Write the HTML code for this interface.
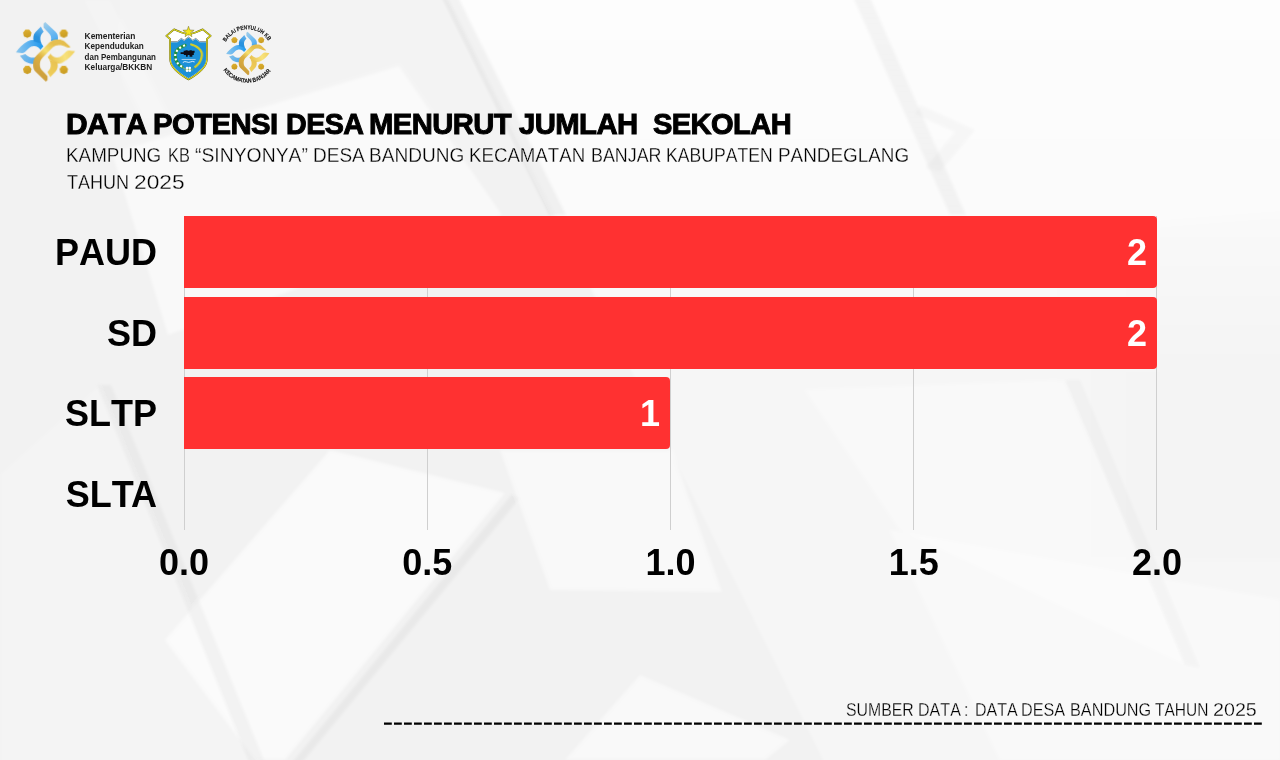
<!DOCTYPE html>
<html lang="id">
<head>
<meta charset="utf-8">
<title>Data Potensi Desa Menurut Jumlah Sekolah</title>
<style>
  html, body { margin: 0; padding: 0; }
  body {
    width: 1280px; height: 760px; overflow: hidden; position: relative;
    background: #f3f3f3;
    font-family: "Liberation Sans", sans-serif;
    color: #000;
  }
  #bg { position: absolute; left: 0; top: 0; width: 1280px; height: 760px; }
  .abs { position: absolute; white-space: nowrap; }

  /* heading */
  #title { left: 0; top: 104px; width: 1280px; height: 40px; }
  #title span {
    position: absolute; top: 0; height: 40px; line-height: 40px;
    font-size: 30px; font-weight: bold; font-kerning: none; letter-spacing: -0.6px;
    transform-origin: 0 50%;
    -webkit-text-stroke: 1.0px #000;
  }
  .line { left: 0; width: 1280px; }
  .line span { position: absolute; top: 0; transform-origin: 0 50%; font-kerning: none; }
  #sub1, #sub2 { height: 26px; }
  #sub1 span, #sub2 span { height: 26px; line-height: 26px; font-size: 19.8px; -webkit-text-stroke: 0.28px #f9f9f9; }
  #sub1 { top: 142px; }
  #sub2 { top: 169px; }

  /* chart */
  .grid { position: absolute; top: 216px; width: 1px; height: 314px; background: #cfcfcf; }
  .bar {
    position: absolute; left: 184px; height: 72.3px; background: #ff3131;
    border-radius: 0 4px 4px 0;
  }
  .val {
    position: absolute; right: 10px; top: 0; height: 72px; line-height: 73px;
    font-size: 36px; font-weight: bold; color: #fff;
  }
  .cat, .tick, .val { font-kerning: none; font-feature-settings: "kern" 0; }
  .cat {
    position: absolute; left: 0; width: 157px; text-align: right;
    height: 72px; line-height: 73px; font-size: 36px; font-weight: bold;
  }
  .tick {
    position: absolute; top: 541px; width: 100px; margin-left: -50px; text-align: center;
    height: 44px; line-height: 44px; font-size: 36px; font-weight: bold;
  }

  /* footer */
  #src { top: 699px; height: 22px; }
  #src span { height: 22px; line-height: 22px; font-size: 17.8px; -webkit-text-stroke: 0.26px #f8f8f8; }
  #dash { position: absolute; left: 0; top: 715px; width: 1280px; height: 16px; }
</style>
</head>
<body>

<svg id="bg" viewBox="0 0 1280 760">
  <defs>
    <linearGradient id="bright" x1="0" y1="0" x2="0" y2="760" gradientUnits="userSpaceOnUse">
      <stop offset="0" stop-color="#fff" stop-opacity="0.82"/>
      <stop offset="0.28" stop-color="#fff" stop-opacity="0.66"/>
      <stop offset="0.5" stop-color="#fff" stop-opacity="0.34"/>
      <stop offset="1" stop-color="#fff" stop-opacity="0.34"/>
    </linearGradient>
    <linearGradient id="fadeR" x1="1040" y1="0" x2="1180" y2="0" gradientUnits="userSpaceOnUse">
      <stop offset="0" stop-color="#000" stop-opacity="0"/>
      <stop offset="1" stop-color="#000" stop-opacity="0.016"/>
    </linearGradient>
    <filter id="soft" x="-5%" y="-5%" width="110%" height="110%"><feGaussianBlur stdDeviation="1.5"/></filter>
    <filter id="softer" x="-5%" y="-5%" width="110%" height="110%"><feGaussianBlur stdDeviation="5"/></filter>
  </defs>
  <rect width="1280" height="760" fill="#f2f2f2"/>
  <g filter="url(#softer)"><polygon points="1040,235 1300,215 1300,560 1040,560" fill="url(#fadeR)"/></g>
  <g filter="url(#soft)">
    <!-- bright region right of stripe 1 -->
    <polygon points="446,-5 1290,-5 1290,770 828,770" fill="url(#bright)"/>
    <!-- slightly lighter band between title quad and stripe -->
    <polygon points="120,-5 446,-5 520,150 120,150" fill="#fff" opacity="0.14"/>
    <!-- title quad -->
    <polygon points="399,66 112,153 168,335 502,215" fill="#fff" opacity="0.55"/>
    <!-- top-left faint stripe -->
    <polygon points="84,0 110,0 170,120 144,120" fill="#fff" opacity="0.2"/>
    <!-- diagonal grey stripes -->
    <polygon points="440,-5 457,-5 566,215 549,215" fill="#000" opacity="0.045"/>
    <polygon points="852,-5 869,-5 966,215 950,215" fill="#000" opacity="0.035"/>
    <polygon points="920,105 975,130 940,172 925,168 955,132 915,114" fill="#000" opacity="0.022"/>
    <!-- lower-left light quad + its shadow edge + dark stripe -->
    <polygon points="512,494 520,498 296,770 286,770" fill="#000" opacity="0.035"/>
    <polygon points="165,640 330,450 505,493 285,760 255,760" fill="#fff" opacity="0.58"/>
    <polygon points="99,385 0,474 0,770 256,770" fill="#fff" opacity="0.16"/>
    <polygon points="97,385 111,385 266,765 250,765" fill="#000" opacity="0.032"/>
    <!-- below SLTP bar -->
    <polygon points="500,450 672,450 722,592 550,590" fill="#fff" opacity="0.50"/>
    <!-- bottom centre wedge -->
    <polygon points="565,760 640,675 790,740 765,760" fill="#fff" opacity="0.50"/>
    <!-- bottom-right translucent quads -->
    <polygon points="805,390 1065,380 1185,665 900,530" fill="#fff" opacity="0.30"/>
    <polygon points="890,530 1280,600 1280,760 1000,760" fill="#fff" opacity="0.30"/>
    <polygon points="1065,380 1080,380 1200,668 1185,665" fill="#000" opacity="0.018"/>
  </g>
</svg>

<!-- LOGOS -->
<svg id="logos" class="abs" style="left:0;top:0" width="320" height="100" viewBox="0 0 320 100">
  <defs>
    <linearGradient id="gBlueA" x1="340" y1="72" x2="480" y2="260" gradientUnits="userSpaceOnUse">
      <stop offset="0" stop-color="#a4cfe8"/><stop offset="0.6" stop-color="#6cb9f2"/><stop offset="1" stop-color="#4aa9f0"/>
    </linearGradient>
    <linearGradient id="gBlueB" x1="312" y1="118" x2="250" y2="290" gradientUnits="userSpaceOnUse">
      <stop offset="0" stop-color="#6ab6ee"/><stop offset="0.6" stop-color="#2c93de"/><stop offset="1" stop-color="#2490e0"/>
    </linearGradient>
    <linearGradient id="gBlueC" x1="60" y1="378" x2="338" y2="300" gradientUnits="userSpaceOnUse">
      <stop offset="0" stop-color="#8cc6ec"/><stop offset="0.5" stop-color="#5cb2f0"/><stop offset="1" stop-color="#1a98ee"/>
    </linearGradient>
    <linearGradient id="gBlueD" x1="105" y1="420" x2="260" y2="490" gradientUnits="userSpaceOnUse">
      <stop offset="0" stop-color="#7dbde8"/><stop offset="1" stop-color="#4ea9ee"/>
    </linearGradient>
    <linearGradient id="gGoldE" x1="600" y1="260" x2="300" y2="660" gradientUnits="userSpaceOnUse">
      <stop offset="0" stop-color="#e4bd4e"/><stop offset="0.25" stop-color="#e6c050"/><stop offset="0.45" stop-color="#f5df70"/><stop offset="0.62" stop-color="#dcb042"/><stop offset="1" stop-color="#c99b3c"/>
    </linearGradient>
    <linearGradient id="gGoldF" x1="60" y1="378" x2="338" y2="300" gradientUnits="userSpaceOnUse">
      <stop offset="0" stop-color="#efd060"/><stop offset="0.4" stop-color="#f8e27c"/><stop offset="1" stop-color="#e6bf4c"/>
    </linearGradient>
    <linearGradient id="gGoldG" x1="250" y1="290" x2="312" y2="118" gradientUnits="userSpaceOnUse">
      <stop offset="0" stop-color="#e8c250"/><stop offset="1" stop-color="#f0cf5c"/>
    </linearGradient>
    <linearGradient id="gHex" x1="0" y1="-42" x2="20" y2="42" gradientUnits="userSpaceOnUse">
      <stop offset="0" stop-color="#dcae2e"/><stop offset="1" stop-color="#c79a22"/>
    </linearGradient>
    <polygon id="hex" points="0.0,44.0 -34.4,27.4 -42.9,-9.8 -19.1,-39.6 19.1,-39.6 42.9,-9.8 34.4,27.4" fill="url(#gHex)"/>
    <path id="pA" d="M340,86 L357,72 L462,172 C485,195 488,215 485,252 L416,264 C420,228 415,205 395,185 L340,128 Z"/>
    <path id="pB" d="M312,118 L256,176 C236,198 232,230 240,268 L322,292 C306,265 303,232 312,208 C318,192 328,180 341,170 Z"/>
    <path id="pC" d="M60,378 C85,340 130,296 178,268 C200,256 225,252 255,256 C290,262 318,282 338,318 L308,352 C292,330 270,318 248,316 C225,314 208,322 192,336 L150,376 C140,384 130,387 118,386 Z"/>
    <path id="pD" d="M100,415 L155,396 C175,415 195,428 213,431 C235,434 250,432 265,426 L290,400 L250,499 L239,495 C222,495 210,493 197,489 C178,483 160,476 145,466 Z"/>
    <path id="pE" d="M615,326 L552,268 C535,254 515,249 492,249 L470,249 C440,250 415,262 395,282 L268,412 C245,436 234,465 235,496 C233,531 240,556 258,574 L363,674 L380,660 L380,618 L325,561 C305,541 300,515 304,484 C306,460 320,442 335,427 L436,326 C455,308 485,302 515,306 C540,310 560,322 580,328 C592,331 604,330 615,326 Z"/>
    <filter id="lblur" x="-5%" y="-5%" width="110%" height="110%"><feGaussianBlur stdDeviation="0.35"/></filter>
    <filter id="tblur" x="-5%" y="-20%" width="110%" height="140%"><feGaussianBlur stdDeviation="0.25"/></filter>
    <g id="mark">
      <use href="#hex" x="175" y="188"/><use href="#hex" x="545" y="188"/>
      <use href="#hex" x="175" y="555"/><use href="#hex" x="545" y="555"/>
      <use href="#pD" fill="url(#gBlueD)"/>
      <use href="#pA" fill="url(#gBlueA)"/>
      <use href="#pC" fill="url(#gBlueC)"/>
      <use href="#pB" fill="url(#gBlueB)"/>
      <path d="M416,264 L485,252 L485,236 L416,246 Z" fill="#3f9fe6" opacity="0.5"/>
      <use href="#pC" fill="url(#gGoldF)" transform="rotate(180 360 373)"/>
      <use href="#pB" fill="url(#gGoldG)" transform="rotate(180 360 373)"/>
      <use href="#pE" fill="url(#gGoldE)"/>
    </g>
  </defs>
  <g transform="translate(10 15) scale(0.09868)" filter="url(#lblur)">
    <use href="#mark"/>
  </g>
  <!-- ministry text -->
  <g id="mtext" font-family="Liberation Sans, sans-serif" font-weight="bold" font-size="8.4" fill="#1c1c1c" filter="url(#tblur)">
    <text x="84.6" y="38.7" textLength="50.8" lengthAdjust="spacingAndGlyphs">Kementerian</text>
    <text x="84.6" y="49.1" textLength="59.2" lengthAdjust="spacingAndGlyphs">Kependudukan</text>
    <text x="84.6" y="59.5" textLength="71.4" lengthAdjust="spacingAndGlyphs">dan Pembangunan</text>
    <text x="84.6" y="69.9" textLength="67.6" lengthAdjust="spacingAndGlyphs">Keluarga/BKKBN</text>
  </g>
  <!-- Pandeglang shield -->
  <g id="shield" transform="translate(155 15) scale(0.10156)" filter="url(#lblur)">
    <path id="shp" d="M112,205 L188,142 L262,172 L330,192 L398,172 L470,142 L548,205 L512,236 L510,440 C508,520 420,582 330,634 C240,582 152,520 150,440 L148,236 Z" fill="#ffffff" stroke="#55540f" stroke-width="17" stroke-linejoin="round"/>
    <path d="M157,268 L220,268 L258,236 L288,254 L330,222 L372,254 L402,236 L440,268 L503,268 L502,440 C500,512 414,572 330,622 C246,572 160,512 158,440 Z" fill="#1f90d8"/>
    <path d="M157,262 L220,262 L258,230 L288,248 L330,216 L372,248 L402,230 L440,262 L503,262" fill="none" stroke="#7f8b92" stroke-width="9" stroke-linejoin="round"/>
    <path d="M112,205 L188,142 L262,172 L330,192 L398,172 L470,142 L548,205 L512,236 L510,440 C508,520 420,582 330,634 C240,582 152,520 150,440 L148,236 Z" fill="none" stroke="#e2dc22" stroke-width="11" stroke-linejoin="round"/>
    <polygon points="330,110 343,148 385,150 352,174 364,214 330,190 296,214 308,174 275,150 317,148" fill="#f4e61c" stroke="#5a5610" stroke-width="4" stroke-linejoin="round"/>
    <!-- left wreath (cotton) -->
    <path d="M296,298 C240,318 200,356 199,400 C200,450 225,488 266,510" fill="none" stroke="#23913f" stroke-width="30" stroke-linecap="round"/>
    <path d="M296,298 C240,318 200,356 199,400 C200,450 225,488 266,510" fill="none" stroke="#ffffff" stroke-width="21" stroke-dasharray="20 24" stroke-linecap="butt"/>
    <!-- right wreath (rice) -->
    <path d="M356,290 C430,312 466,356 460,400 C454,450 430,486 392,512" fill="none" stroke="#cfcb2a" stroke-width="21" stroke-linecap="round" stroke-dasharray="9 4"/>
    <path d="M352,284 C440,306 482,356 474,404 C466,456 438,494 396,522" fill="none" stroke="#e3df3a" stroke-width="5" stroke-dasharray="5 5"/>
    <!-- central emblem -->
    <path d="M252,366 H282 V352 H300 V346 H322 V352 H340 V346 H362 V352 H390 V372 H382 V394 H368 V410 H340 V394 H322 V410 H306 V394 H284 V384 H252 Z" fill="#0b0f14"/>
    <!-- waves -->
    <path d="M262,438 H400" stroke="#d5e9f6" stroke-width="7"/>
    <path d="M274,468 Q292,452 312,462 T350,462 T390,462" fill="none" stroke="#ffffff" stroke-width="8"/>
    <!-- stems + flower -->
    <path d="M268,512 Q300,548 372,540" fill="none" stroke="#d4c81e" stroke-width="7"/>
    <path d="M392,514 Q360,548 288,544" fill="none" stroke="#6aa83a" stroke-width="6"/>
    <g fill="#ffffff"><circle cx="316" cy="522" r="13"/><circle cx="342" cy="522" r="13"/><circle cx="316" cy="548" r="13"/><circle cx="342" cy="548" r="13"/></g>
    <circle cx="329" cy="535" r="6" fill="#8fb53a"/>
  </g>
  <!-- circular badge -->
  <g id="badge" filter="url(#lblur)">
    <g transform="translate(221.8 26.6) scale(0.0722)"><use href="#mark"/></g>
  </g>
  <g font-family="Liberation Sans, sans-serif" font-weight="bold" font-size="5.9" fill="#0c0c0c" stroke="#0c0c0c" stroke-width="0.1" filter="url(#tblur)">
    <path id="arcTop" d="M222.80,53.90 A24.6,24.6 0 0 1 272.00,53.90" fill="none" stroke="none"/>
    <path id="arcBot" d="M218.50,53.90 A28.9,28.9 0 0 0 276.30,53.90" fill="none" stroke="none"/>
    <text><textPath href="#arcTop" startOffset="12.3" textLength="50.8" lengthAdjust="spacingAndGlyphs">BALAI PENYULUH KB</textPath></text>
    <text><textPath href="#arcBot" startOffset="17.0" textLength="55.7" lengthAdjust="spacingAndGlyphs">KECAMATAN BANJAR</textPath></text>
  </g>
</svg>

<!-- HEADING -->
<div id="title" class="abs">
  <span id="w1" style="left:65.57px;transform:scaleX(0.9994)">DATA</span>
  <span id="w2" style="left:153.09px;transform:scaleX(0.9767)">POTENSI</span>
  <span id="w3" style="left:286.19px;transform:scaleX(0.9555)">DESA</span>
  <span id="w4" style="left:369.15px;transform:scaleX(0.9738)">MENURUT</span>
  <span id="w5" style="left:518.58px;transform:scaleX(0.9762)">JUMLAH</span>
  <span id="w6" style="left:652.51px;transform:scaleX(0.9692)">SEKOLAH</span>
</div>
<div id="sub1" class="abs line">
  <span id="s1" style="left:66.47px;transform:scaleX(0.9526)">KAMPUNG</span>
  <span id="s2" style="left:167.52px;transform:scaleX(0.8285)">KB</span>
  <span id="s3" style="left:194.87px;transform:scaleX(0.9783)">“SINYONYA”</span>
  <span id="s4" style="left:313.25px;transform:scaleX(0.9602)">DESA</span>
  <span id="s5" style="left:369.14px;transform:scaleX(0.9643)">BANDUNG</span>
  <span id="s6" style="left:469.02px;transform:scaleX(0.9435)">KECAMATAN</span>
  <span id="s7" style="left:590.91px;transform:scaleX(0.9036)">BANJAR</span>
  <span id="s8" style="left:665.60px;transform:scaleX(0.8899)">KABUPATEN</span>
  <span id="s9" style="left:777.51px;transform:scaleX(0.9546)">PANDEGLANG</span>
</div>
<div id="sub2" class="abs line">
  <span id="t1" style="left:67.35px;transform:scaleX(0.9116)">TAHUN</span>
  <span id="t2" style="left:133.82px;transform:scaleX(1.1500)">2025</span>
</div>

<!-- CHART -->
<div class="grid" style="left:184px"></div>
<div class="grid" style="left:427px"></div>
<div class="grid" style="left:670px"></div>
<div class="grid" style="left:913px"></div>
<div class="grid" style="left:1156px"></div>

<div class="bar" style="top:215.8px; width:973px"><span class="val">2</span></div>
<div class="bar" style="top:296.5px; width:973px"><span class="val">2</span></div>
<div class="bar" style="top:377.2px; width:486px"><span class="val">1</span></div>

<div class="cat" style="top:216px">PAUD</div>
<div class="cat" style="top:296.5px">SD</div>
<div class="cat" style="top:377px">SLTP</div>
<div class="cat" style="top:458px">SL<span style="letter-spacing:-2.7px">T</span>A</div>

<div class="tick" style="left:184px">0.0</div>
<div class="tick" style="left:427.25px">0.5</div>
<div class="tick" style="left:670.5px">1.0</div>
<div class="tick" style="left:913.75px">1.5</div>
<div class="tick" style="left:1157px">2.0</div>

<!-- FOOTER -->
<div id="src" class="abs line">
  <span id="f1" style="left:846.46px;transform:scaleX(0.8910)">SUMBER</span>
  <span id="f2" style="left:918.00px;transform:scaleX(0.9038)">DATA</span>
  <span id="f3" style="left:963.85px;transform:scaleX(1.0000)">:</span>
  <span id="f4" style="left:974.66px;transform:scaleX(0.9003)">DATA</span>
  <span id="f5" style="left:1021.44px;transform:scaleX(0.9111)">DESA</span>
  <span id="f6" style="left:1070.49px;transform:scaleX(0.9136)">BANDUNG</span>
  <span id="f7" style="left:1155.22px;transform:scaleX(0.8713)">TAHUN</span>
  <span id="f8" style="left:1213.04px;transform:scaleX(1.1074)">2025</span>
</div>
<svg id="dash" viewBox="0 0 1280 16">
  <line x1="384" y1="8.6" x2="1262" y2="8.6" stroke="#000" stroke-width="2.3" stroke-dasharray="7.8 2.2"/>
</svg>

</body>
</html>
